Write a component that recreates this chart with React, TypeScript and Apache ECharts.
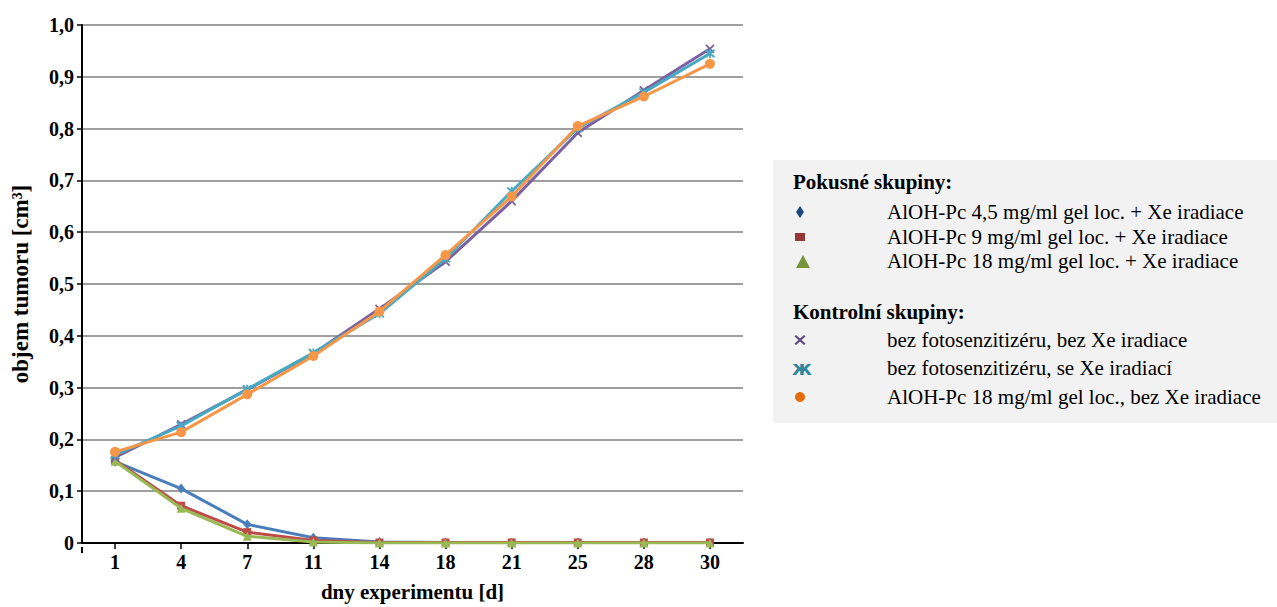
import React, { useEffect, useRef } from "react";
import * as echarts from "echarts";

const days = ["1", "4", "7", "11", "14", "18", "21", "25", "28", "30"];
const yTicks = [0, 0.1, 0.2, 0.3, 0.4, 0.5, 0.6, 0.7, 0.8, 0.9, 1.0];

const pc45 = [0.157, 0.105, 0.036, 0.010, 0.002, 0.001, 0.001, 0.001, 0.001, 0.001];
const pc9 = [0.160, 0.072, 0.021, 0.005, 0.001, 0.001, 0.001, 0.001, 0.001, 0.001];
const pc18 = [0.158, 0.067, 0.013, 0.002, 0.000, 0.000, 0.000, 0.000, 0.000, 0.000];
const ctrlNone = [0.165, 0.229, 0.296, 0.366, 0.452, 0.543, 0.660, 0.792, 0.874, 0.954];
const ctrlXe = [0.170, 0.226, 0.297, 0.367, 0.443, 0.549, 0.679, 0.801, 0.870, 0.945];
const ctrlPc18 = [0.176, 0.214, 0.287, 0.361, 0.447, 0.556, 0.669, 0.805, 0.862, 0.925];

const groupTitles = ["Pokusné skupiny:", "Kontrolní skupiny:"];
const expLabels = [
  "AlOH-Pc 4,5 mg/ml gel loc. + Xe iradiace",
  "AlOH-Pc 9 mg/ml gel loc. + Xe iradiace",
  "AlOH-Pc 18 mg/ml gel loc. + Xe iradiace",
];
const ctrlLabels = [
  "bez fotosenzitizéru, bez Xe iradiace",
  "bez fotosenzitizéru, se Xe iradiací",
  "AlOH-Pc 18 mg/ml gel loc., bez Xe iradiace",
];

const xAxisName = "dny experimentu [d]";
const yAxisName = "objem tumoru [cm³]";

const FONT = '"Liberation Serif", "Times New Roman", serif';

export default function App() {
  const ref = useRef<HTMLDivElement>(null);

  useEffect(() => {
    document.body.style.margin = "0";
    if (!ref.current) return;
    const chart = echarts.init(ref.current, undefined, { renderer: "svg" });

    const lineColors = ["#4a7ebb", "#be4b48", "#98b954", "#7d60a0", "#46aac5", "#f79646"];
    const symbols = [
      "diamond",
      "rect",
      "triangle",
      "path://M0,0L10,10M10,0L0,10",
      "path://M0,0L10,10M10,0L0,10M5,-1L5,11",
      "circle",
    ];
    const symbolSizes = [[8, 10], 8, 9, 8, 9, 10];
    const datas = [pc45, pc9, pc18, ctrlNone, ctrlXe, ctrlPc18];
    const names = [...expLabels, ...ctrlLabels];

    const series = datas.map((d, i) => ({
      type: "line",
      name: names[i],
      data: d,
      symbol: symbols[i],
      symbolSize: symbolSizes[i],
      showAllSymbol: true,
      lineStyle: { color: lineColors[i], width: 3 },
      itemStyle: {
        color: lineColors[i],
        borderColor: lineColors[i],
        borderWidth: i === 3 || i === 4 ? 1.8 : 0,
      },
      z: 2 + i,
    }));

    const legendMarkerColors = ["#1f497d", "#953735", "#77933c", "#604a7b", "#31859c", "#e46c0a"];
    const mx = 800;
    const textX = 887;
    const rowsY = [212, 237, 261, 340, 368, 397];
    const textFont = `21px ${FONT}`;
    const boldFont = `bold 21px ${FONT}`;

    const graphics: any[] = [
      {
        type: "rect",
        shape: { x: 773, y: 160, width: 504, height: 263 },
        style: { fill: "#f2f2f2" },
        z: 0,
      },
      {
        type: "text",
        x: 793,
        y: 182,
        style: { text: groupTitles[0], font: boldFont, fill: "#000", verticalAlign: "middle" },
      },
      {
        type: "text",
        x: 793,
        y: 312,
        style: { text: groupTitles[1], font: boldFont, fill: "#000", verticalAlign: "middle" },
      },
    ];
    names.forEach((n, i) => {
      graphics.push({
        type: "text",
        x: textX,
        y: rowsY[i],
        style: { text: n, font: textFont, fill: "#000", verticalAlign: "middle" },
      });
    });
    const c = legendMarkerColors;
    graphics.push({
      type: "polygon",
      shape: { points: [[mx, rowsY[0] - 6], [mx + 4, rowsY[0]], [mx, rowsY[0] + 6], [mx - 4, rowsY[0]]] },
      style: { fill: c[0] },
    });
    graphics.push({
      type: "rect",
      shape: { x: mx - 5, y: rowsY[1] - 4, width: 10, height: 8 },
      style: { fill: c[1] },
    });
    graphics.push({
      type: "polygon",
      shape: { points: [[mx + 3, rowsY[2] - 6], [mx + 10, rowsY[2] + 7], [mx - 4, rowsY[2] + 7]] },
      style: { fill: c[2] },
    });
    const y4 = rowsY[3];
    graphics.push({
      type: "polygon",
      shape: {
        points: [
          [mx - 4, y4 - 5], [mx, y4 - 1.5], [mx + 4, y4 - 5], [mx + 5.5, y4 - 3.5], [mx + 1.5, y4],
          [mx + 5.5, y4 + 3.5], [mx + 4, y4 + 5], [mx, y4 + 1.5], [mx - 4, y4 + 5], [mx - 5.5, y4 + 3.5],
          [mx - 1.5, y4], [mx - 5.5, y4 - 3.5],
        ],
      },
      style: { fill: c[3] },
    });
    graphics.push({
      type: "text",
      x: mx + 2,
      y: rowsY[4],
      style: {
        text: "ж",
        font: 'bold 20px "DejaVu Sans", sans-serif',
        fill: c[4],
        align: "center",
        verticalAlign: "middle",
      },
    });
    graphics.push({
      type: "circle",
      shape: { cx: mx, cy: rowsY[5], r: 5 },
      style: { fill: c[5] },
    });
    // small downward extension of the y-axis below the x-axis
    graphics.push({
      type: "line",
      shape: { x1: 82, y1: 547, x2: 82, y2: 553 },
      style: { stroke: "#000", lineWidth: 2 },
    });

    chart.setOption({
      animation: false,
      backgroundColor: "#ffffff",
      grid: { left: 82, right: 534, top: 25, bottom: 60, containLabel: false },
      xAxis: {
        type: "category",
        data: days,
        boundaryGap: true,
        name: xAxisName,
        nameLocation: "middle",
        nameGap: 38,
        nameTextStyle: { fontFamily: FONT, fontWeight: "bold", fontSize: 21, color: "#000" },
        axisLine: { show: true, lineStyle: { color: "#000", width: 2 } },
        axisTick: { show: true, alignWithLabel: true, length: 6, lineStyle: { color: "#000", width: 1.5 } },
        axisLabel: { fontFamily: FONT, fontWeight: "bold", fontSize: 20, color: "#000", margin: 9 },
        splitLine: { show: false },
      },
      yAxis: {
        type: "value",
        min: 0,
        max: 1,
        interval: 0.1,
        name: yAxisName,
        nameLocation: "middle",
        nameGap: 50,
        nameRotate: 90,
        nameTextStyle: { fontFamily: FONT, fontWeight: "bold", fontSize: 23, color: "#000" },
        axisLine: { show: true, lineStyle: { color: "#000", width: 2 } },
        axisTick: { show: true, length: 5, lineStyle: { color: "#000", width: 1.5 } },
        axisLabel: {
          fontFamily: FONT,
          fontWeight: "bold",
          fontSize: 20,
          color: "#000",
          margin: 8,
          formatter: (v: number) => {
            const t = yTicks.find((k) => Math.abs(k - v) < 1e-9);
            const val = t === undefined ? v : t;
            return val === 0 ? "0" : val.toFixed(1).replace(".", ",");
          },
        },
        splitLine: { show: true, lineStyle: { color: "#7f7f7f", width: 1.5 } },
      },
      series,
      graphic: graphics,
    });

    return () => {
      chart.dispose();
    };
  }, []);

  return <div ref={ref} style={{ width: 1277, height: 607 }} />;
}
